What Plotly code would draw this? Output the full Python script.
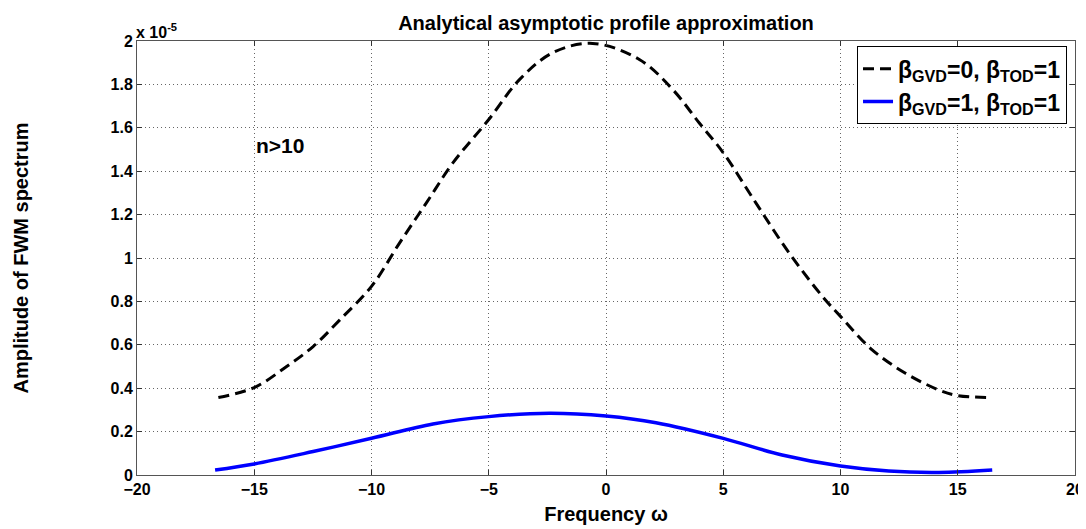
import plotly.graph_objects as go

# Frequency grid and amplitudes (units of 1e-5)
omega_black = [-16.53, -15.0, -13.62, -12.49, -11.35, -10.0, -8.80, -7.66, -6.53, -5.0,
               -3.68, -2.27, -0.57, 1.42, 2.84, 3.97, 5.0, 6.39, 7.81, 9.23, 10.0,
               11.35, 12.77, 14.19, 15.0, 16.47]
amp_black = [0.357, 0.403, 0.50, 0.592, 0.715, 0.869, 1.07, 1.254, 1.438, 1.638,
             1.823, 1.946, 1.989, 1.915, 1.777, 1.623, 1.485, 1.254, 1.023, 0.823, 0.731,
             0.577, 0.469, 0.392, 0.366, 0.357]

omega_blue = [-16.67, -15.0, -12.49, -10.0, -7.38, -5.0, -2.41, 0.0, 2.13, 5.0,
              7.51, 10.0, 12.06, 14.19, 16.47]
amp_blue = [0.023, 0.051, 0.108, 0.169, 0.235, 0.269, 0.285, 0.272, 0.241, 0.169,
            0.092, 0.041, 0.018, 0.012, 0.023]

x_ticks = [-20, -15, -10, -5, 0, 5, 10, 15, 20]
y_ticks = [0, 0.2, 0.4, 0.6, 0.8, 1, 1.2, 1.4, 1.6, 1.8, 2]

FONT = "Liberation Sans, Arial, sans-serif"

fig = go.Figure()
fig.add_trace(go.Scatter(
    x=omega_black, y=amp_black, mode="lines", line_shape="spline",
    line=dict(color="black", width=3, dash="11px,6px"),
    name="β<sub>GVD</sub>=0, β<sub>TOD</sub>=1"))
fig.add_trace(go.Scatter(
    x=omega_blue, y=amp_blue, mode="lines", line_shape="spline",
    line=dict(color="#0000FF", width=3.5),
    name="β<sub>GVD</sub>=1, β<sub>TOD</sub>=1"))

axis_common = dict(
    showline=True, linecolor="#555", linewidth=1, mirror="ticks",
    ticks="inside", ticklen=5, tickcolor="#333",
    showgrid=True, gridcolor="#666", griddash="1px,3px", gridwidth=1,
    zeroline=False, automargin=False,
    tickfont=dict(family=FONT, size=16, color="black", weight="bold"),
)

fig.update_layout(
    width=1078, height=521,
    margin=dict(l=129, r=11, t=33, b=54),
    paper_bgcolor="white", plot_bgcolor="white",
    font=dict(family=FONT, color="black"),
    title=dict(text="Analytical asymptotic profile approximation",
               x=0.5, xref="paper", xanchor="center", y=1, yref="paper",
               yanchor="bottom", pad=dict(b=11),
               font=dict(family=FONT, size=20, weight="bold", color="black")),
    xaxis=dict(range=[-20, 20], tickvals=x_ticks, **axis_common,
               title=dict(text="Frequency ω", standoff=9,
                          font=dict(family=FONT, size=20, weight="bold"))),
    yaxis=dict(range=[0, 2], tickvals=y_ticks, **axis_common,
               title=dict(text="Amplitude of FWM spectrum", standoff=76,
                          font=dict(family=FONT, size=20, weight="bold"))),
    legend=dict(x=0.9915, y=0.988, xanchor="right", yanchor="top",
                bgcolor="white", bordercolor="black", borderwidth=1,
                font=dict(family=FONT, size=23, weight="bold", color="black"),
                tracegroupgap=0, itemwidth=30),
    showlegend=True,
)

fig.add_annotation(x=-15.0, y=1.52, xref="x", yref="y", text="n>10",
                   showarrow=False, xanchor="left", yanchor="middle",
                   font=dict(family=FONT, size=21, weight="bold", color="black"))
fig.add_annotation(x=0, y=1, xref="paper", yref="paper", text="x 10<sup>-5</sup>",
                   showarrow=False, xanchor="left", yanchor="bottom", xshift=-3, yshift=-2,
                   font=dict(family=FONT, size=16, weight="bold", color="black"))

fig.write_html("out.html")
